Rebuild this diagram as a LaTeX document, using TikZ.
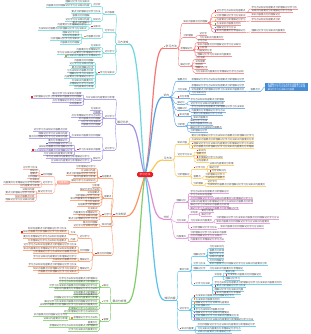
\documentclass[tikz,border=0pt]{standalone}
\usepackage{fontspec}
\setmainfont{Noto Sans CJK SC}
\definecolor{txt}{RGB}{75,75,75}
\definecolor{cred}{RGB}{245,120,120}
\definecolor{cblue}{RGB}{90,160,230}
\definecolor{cyel}{RGB}{250,200,90}
\definecolor{cpink}{RGB}{225,140,215}
\definecolor{ccyr}{RGB}{90,195,235}
\definecolor{cteal}{RGB}{110,215,220}
\definecolor{cpur}{RGB}{165,145,230}
\definecolor{corg}{RGB}{250,150,100}
\definecolor{cgrn}{RGB}{130,205,110}
\definecolor{csal}{RGB}{248,170,150}
\definecolor{ccen}{RGB}{232,30,40}
\definecolor{cbox}{RGB}{70,140,215}
\definecolor{mr}{RGB}{230,40,40}
\definecolor{mo}{RGB}{245,140,30}
\definecolor{my}{RGB}{240,200,40}
\definecolor{mg}{RGB}{60,180,80}
\definecolor{mb}{RGB}{60,120,220}
\definecolor{mp}{RGB}{150,80,200}
\definecolor{mm}{RGB}{220,80,200}
\newcount\tcnt \newcount\tmod
\newcommand\T[1]{\tcnt=0\relax\loop\ifnum\tcnt<#1\relax\ifcase\tmod 学\or 习\or 方\or 法\or 知\or 识\or 内\or 容\or 要\or 点\or 分\or 析\or 理\or 解\or 记\or 忆\fi\global\advance\tmod by 1\relax\ifnum\tmod>15\relax\global\tmod=0\relax\fi\advance\tcnt by 1\relax\repeat}
\newcommand\mk[1]{\if\relax\detokenize{#1}\relax\else{\color{#1}\rule{1.8pt}{1.8pt}}\hspace{0.4pt}\fi}
\tikzset{
 tx/.style={inner xsep=0.3pt, inner ysep=0.2pt, font=\fontsize{2.4}{2.6}\selectfont, text=txt},
 tR/.style={tx, anchor=south west},
 tL/.style={tx, anchor=south east},
 mx/.style={tx, font=\fontsize{2.8}{3}\selectfont},
 cn/.style={draw=bc, line width=0.4pt},
 ul/.style={draw=bc!80, line width=0.35pt},
 mul/.style={draw=bc, line width=0.7pt},
 mainc/.style={draw=bc, line width=1.2pt, line cap=round},
}
\newcommand\nR[6][]{\node[tR] (#3) at (#4,#5) {\mk{#1}\T{#6}};
 \draw[cn] (#2.south east) .. controls +(4,0) and +(-4,0) .. (#3.south west);
 \draw[ul] (#3.south west) -- (#3.south east);}
\newcommand\nL[6][]{\node[tL] (#3) at (#4,#5) {\mk{#1}\T{#6}};
 \draw[cn] (#2.south west) .. controls +(-4,0) and +(4,0) .. (#3.south east);
 \draw[ul] (#3.south west) -- (#3.south east);}
\newcommand\mainR[5][]{\node[mx,anchor=south west] (#2) at (#3,#4) {\mk{#1}\T{#5}};
 \draw[mul] (#2.south west) -- (#2.south east);}
\newcommand\mainL[5][]{\node[mx,anchor=south east] (#2) at (#3,#4) {\mk{#1}\T{#5}};
 \draw[mul] (#2.south west) -- (#2.south east);}
\newcommand\leavesR[3]{\foreach \yy/\nn in {#3} {\nR{#1}{lf}{#2}{\yy}{\nn}}}
\newcommand\leavesL[3]{\foreach \yy/\nn in {#3} {\nL{#1}{lf}{#2}{\yy}{\nn}}}
\begin{document}
\begin{tikzpicture}[x=1pt,y=-1pt]
\fill[white] (0,0) rectangle (310,334);
\useasboundingbox (0,0) rectangle (310,334);
\coordinate (c0) at (145,174.5);
% ---------------- RED
\colorlet{bc}{cred}
\mainR[mo]{R}{163}{48}{4}
\draw[mainc] (c0) .. controls (153,140) and (152,48) .. (R.south west);
\nR{R}{r1}{183}{23}{10}
\nR[mr]{r1}{r1a}{214}{12.5}{12}
\nR[mo]{r1}{r1b}{214}{17}{12}
\nR[my]{r1}{r1c}{214}{21.5}{12}
\nR[mg]{r1}{r1d}{214}{25.5}{10}
\nR[mb]{r1}{r1e}{214}{29}{8}
\nR[mp]{r1}{r1f}{214}{32.5}{12}
\nR{r1a}{r1a1}{251}{9}{19}
\nR{r1a}{r1a2}{251}{12.5}{17}
\nR{r1b}{r1b1}{251}{16.5}{12}
\nR{r1c}{r1c1}{251}{21}{12}
\nR{r1f}{r1f1}{251}{32}{14}
\nR{R}{r2}{183}{37.5}{4}
\leavesR{r2}{199}{35.5/3,39.5/10}
\nR{R}{r3}{180}{50}{5}
\leavesR{r3}{197}{42.5/4,45.8/18,52.6/6,56/14}
\nR[mr]{r3}{r3c}{197}{49.2}{3}
\nR{R}{r4}{180}{66}{4}
\leavesR{r4}{195}{59.5/4,62.8/4,66.1/3,69.4/5,72.7/20}
% ---------------- BLUE
\colorlet{bc}{cblue}
\mainR{B}{163}{97}{2}
\draw[mainc] (c0) .. controls (152.5,150) and (152,97) .. (B.south west);
\nR{B}{b1}{177}{81}{4}
\leavesR{b1}{191}{81/22}
\nR{B}{b2}{177}{91}{4}
\nR{b2}{b2b}{191}{91}{22}
\leavesR{b2}{191}{87/22,94.5/6}
\nR{b2b}{bx}{250}{91}{4}
\node[fill=cbox, text=white, font=\fontsize{2.2}{2.5}\selectfont, align=left, minimum width=43pt, minimum height=8pt, inner sep=0.4pt] (bb) at (286.5,87) {\T{17}\\\T{17}\\\T{12}};
\draw[cn] (bx.south east) .. controls +(2,0) and +(-2,0) .. (bb.west);
\nR[mr]{B}{b3}{177}{98.5}{4}
\nR{B}{b4}{177}{104}{3}
\leavesR{b4}{190}{101.5/14,105/14}
\nR{B}{b5}{177}{110}{4}
\leavesR{b5}{191}{108.5/22,112/14}
\nR[mr]{B}{b6}{177}{116.5}{4}
\leavesR{b6}{193}{115.5/12,119/6}
\nR{B}{b7}{177}{126}{3}
\leavesR{b7}{190}{122/7,125.3/9,128.6/13,132/7}
% ---------------- YELLOW
\colorlet{bc}{cyel}
\mainR{Y}{163}{160}{3}
\draw[mainc] (c0) .. controls (155,172) and (154,160) .. (Y.south west);
\nR{Y}{y1}{177}{144}{4}
\leavesR{y1}{191}{137.5/26,141/26}
\nR[mr]{y1}{y1c}{191}{145}{25}
\nR[mo]{y1}{y1d}{191}{148.5}{25}
\nR{Y}{y2}{177}{156}{6}
\nR[mr]{y2}{y2a}{196}{152}{3}
\nR{y2}{y2b}{196}{155.3}{4}
\nR[mr]{y2}{y2c}{196}{158.6}{10}
\nR{y2}{y2d}{196}{162}{5}
\nR{Y}{y3}{177}{176}{5}
\nR[mr]{y3}{y3a}{193}{169}{4}
\leavesR{y3a}{209}{165.5/10,169/4}
\nR[mr]{y3a}{y3a3}{209}{172.5}{6}
\nR{y3}{y3b}{193}{178}{3}
\leavesR{y3b}{205}{176/8,179.5/8}
\nR{y3}{y3c}{193}{185}{4}
\leavesR{y3c}{207}{183/4,186.5/24}
% ---------------- PINK
\colorlet{bc}{cpink}
\mainR{P}{163}{219}{2}
\draw[mainc] (c0) .. controls (153,190) and (152,219) .. (P.south west);
\nR{P}{p1}{176}{202}{4}
\leavesR{p1}{190}{193/16,196.3/9,199.6/26,203/26,206.3/16,209.6/20}
\nR{P}{p2}{176}{222}{4}
\nR{p2}{p2a}{190}{214}{3}
\leavesR{p2a}{201}{212.5/5,216/4}
\nR{p2}{p2b}{190}{222}{9}
\leavesR{p2b}{216}{219.5/26,223/22}
\nR[mr]{p2}{p2c}{190}{229}{10}
\leavesR{p2c}{220}{228.5/18}
\nR{P}{p3}{176}{238}{4}
\leavesR{p3}{190}{234/15,237.5/13,241/14}
% ---------------- CYAN RIGHT
\colorlet{bc}{ccyr}
\mainR{K}{164}{300}{4}
\draw[mainc] (c0) .. controls (153,215) and (153,300) .. (K.south west);
\nR{K}{k1}{179}{271}{4}
\nR{k1}{k1a}{193}{256}{5}
\leavesR{k1a}{209}{248.5/6,251.8/6,255.1/6,258.4/6,261.7/6}
\nR{k1}{k1b}{193}{265.5}{5}
\leavesR{k1b}{209}{265.5/24}
\nR{k1}{k1c}{193}{270}{5}
\leavesR{k1c}{209}{270/14}
\nR[mr]{k1}{k1d}{193}{285}{6}
\nR{k1d}{k1d1}{214}{276.5}{3}
\leavesR{k1d1}{225}{273/4,280/6}
\nR[mr]{k1d1}{k1d1b}{225}{276.5}{14}
\leavesR{k1d}{214}{284/28,291/12}
\nR[mr]{k1d}{k1d3}{214}{287.5}{12}
\nR[mr]{k1d}{k1d5}{214}{294.5}{10}
\nR{K}{k2}{179}{310}{4}
\nR[mr]{k2}{k2a}{193}{297.5}{16}
\nR[mo]{k2}{k2b}{193}{300.8}{10}
\nR[mo]{k2}{k2c}{193}{304.1}{14}
\nR[mg]{k2}{k2d}{193}{307.4}{6}
\nR[mb]{k2}{k2e}{193}{310.7}{12}
\nR[mb]{k2}{k2f}{193}{314}{14}
\nR[mp]{k2}{k2g}{193}{317.3}{18}
\nR[mm]{k2}{k2h}{193}{320.6}{24}
\nR[mr]{K}{k3}{179}{330}{5}
\leavesR{k3}{197}{326.5/24,330/18,333.5/14}
% ---------------- TEAL LEFT
\colorlet{bc}{cteal}
\mainL{T}{129}{44}{4}
\draw[mainc] (c0) .. controls (140,140) and (140,44) .. (T.south east);
\nL{T}{t1}{115}{14}{4}
\nL{t1}{t1a}{101}{6.5}{3}
\leavesL{t1a}{90}{3.5/10,7/18}
\nL{t1}{t1b}{101}{13.5}{12}
\nL{t1}{t1c}{101}{21}{3}
\leavesL{t1c}{90}{17.5/7,21/10,24.5/7}
\nL{T}{t2}{115}{32.5}{4}
\nL[mr]{t2}{t2a}{101}{28}{3}
\leavesL{t2a}{87}{26.5/12,30/20}
\nL[mo]{t2}{t2b}{101}{38}{6}
\leavesL{t2b}{80}{34/7,37.3/7,40.6/12,44/8}
\nL{T}{t3}{115}{53}{4}
\leavesL{t3}{101}{47.5/4,50.8/10,54.1/18}
\nL[mo]{t3}{t3d}{101}{57.5}{14}
\nL[mr]{T}{t4}{115}{74}{6}
\leavesL{t4}{94}{62/8,65.3/10,68.6/9,71.9/11,75.2/10,78.5/12,81.8/9,85.1/10,88.4/8}
% ---------------- PURPLE
\colorlet{bc}{cpur}
\mainL{U}{129}{124}{4}
\draw[mainc] (c0) .. controls (139.5,165) and (139.5,124) .. (U.south east);
\nL{U}{u0}{115}{99}{12}
\leavesL{u0}{82}{95/12,102/12,105.5/5}
\nL[mr]{u0}{u0b}{82}{98.5}{20}
\nL{U}{u1}{115}{118}{4}
\leavesL{u1}{101}{110.5/4,113.6/3,116.7/12,119.8/9,122.9/8,126/8}
\nL{U}{u2}{115}{150}{4}
\nL{u2}{u2a}{101}{137}{12}
\leavesL{u2a}{68}{131.5/14,135/12,138.5/16,142/8}
\nL[mr]{u2}{u2b}{101}{151}{9}
\nL[mb]{u2b}{u2b1}{73}{145}{10}
\nL{u2b}{u2b2}{73}{148.3}{14}
\nL[mr]{u2b}{u2b3}{73}{151.6}{16}
\nL{u2b}{u2b4}{73}{155}{12}
\nL{u2}{u2c}{101}{160}{3}
\leavesL{u2c}{90}{158/18,162/16}
% ---------------- ORANGE
\colorlet{bc}{corg}
\mainL[mr]{O}{127}{216}{4}
\draw[mainc] (c0) .. controls (139,195) and (135,216) .. (O.south east);
\nL[mr]{O}{o1}{112}{178}{4}
\leavesL{o1}{96}{168.5/8,171.8/6,175.1/12,178.4/9}
\nL{o1}{o1e}{96}{181.7}{10}
\nL{O}{o2}{112}{198}{3}
\leavesL{o2}{100}{187.5/3,190.6/8,193.7/5,196.8/10,199.9/12,203/6,206.1/9}
\nL[mr]{O}{o3}{112}{216}{3}
\leavesL{o3}{98}{210.5/4,213.7/10,216.9/8,220.1/12}
\nL{O}{o4}{112}{226}{4}
\leavesL{o4}{98}{224/6,227.5/10}
\nL[mr]{O}{o5}{112}{255}{6}
\nL{o5}{o5a}{90}{238}{4}
\nL{o5a}{o5a1}{76}{234.5}{2}
\nL{o5a1}{o5a1a}{67}{230}{16}
\nL[mr]{o5a1}{o5a1b}{67}{233.5}{18}
\nL{o5a}{o5a2}{76}{241.5}{2}
\leavesL{o5a2}{67}{238.5/18,242/16}
\nL{o5}{o5b}{90}{252}{4}
\leavesL{o5b}{77}{246.5/22,250/22,253.5/18}
\nL{o5}{o5c}{90}{261}{4}
\leavesL{o5c}{77}{258/18,261.5/10}
\nL{o5}{o5d}{90}{270}{4}
\leavesL{o5d}{77}{266.5/20,270/18,273.5/16}
% ---------------- SALMON BOX
\colorlet{bc}{csal}
\node[fill=csal, text=white, rounded corners=0.8pt, font=\fontsize{2.4}{2.6}\selectfont, minimum width=13pt, minimum height=4pt, inner sep=0.3pt] (S) at (63.5,182.5) {\T{4}};
\draw[cn] (S.east) .. controls +(3,0) and +(-3,0) .. (o1e.south west);
\nL[mr]{S}{s1}{53}{176}{4}
\leavesL{s1}{38}{169.5/6,172.5/3,175.5/3,178.5/4}
\nL{S}{s2}{53}{184}{4}
\leavesL{s2}{40}{181.5/4,184.5/15,187.5/8}
\nL{S}{s3}{53}{193}{6}
\leavesL{s3}{35}{191/5,194.3/12,197.6/8,200.9/12}
% ---------------- GREEN
\colorlet{bc}{cgrn}
\mainL{G}{127}{303}{5}
\draw[mainc] (c0) .. controls (139,215) and (139,303) .. (G.south east);
\nL[mo]{G}{g1}{109}{287}{2}
\leavesL{g1}{98}{280/16,283.5/16,287/20,290.5/18,294/10}
\nL[mo]{G}{g2}{109}{303}{2}
\leavesL{g2}{98}{296/10,299.4/18,302.8/22,306.2/24,309.6/12}
\nL[mr]{G}{g3}{109}{321}{2}
\leavesL{g3}{98}{313.5/14,324/4,327.5/20,331/12}
\nL[mo]{g3}{g3b}{98}{319.5}{10}
\leavesL{g3b}{68}{316.5/14,320/10}
% ---------------- CENTER
\node[fill=ccen, text=white, rounded corners=1.5pt, font=\fontsize{2.6}{2.8}\selectfont, minimum width=16pt, minimum height=5pt, inner sep=0.3pt] (C) at (c0) {学习\,方法};
\end{tikzpicture}
\end{document}
